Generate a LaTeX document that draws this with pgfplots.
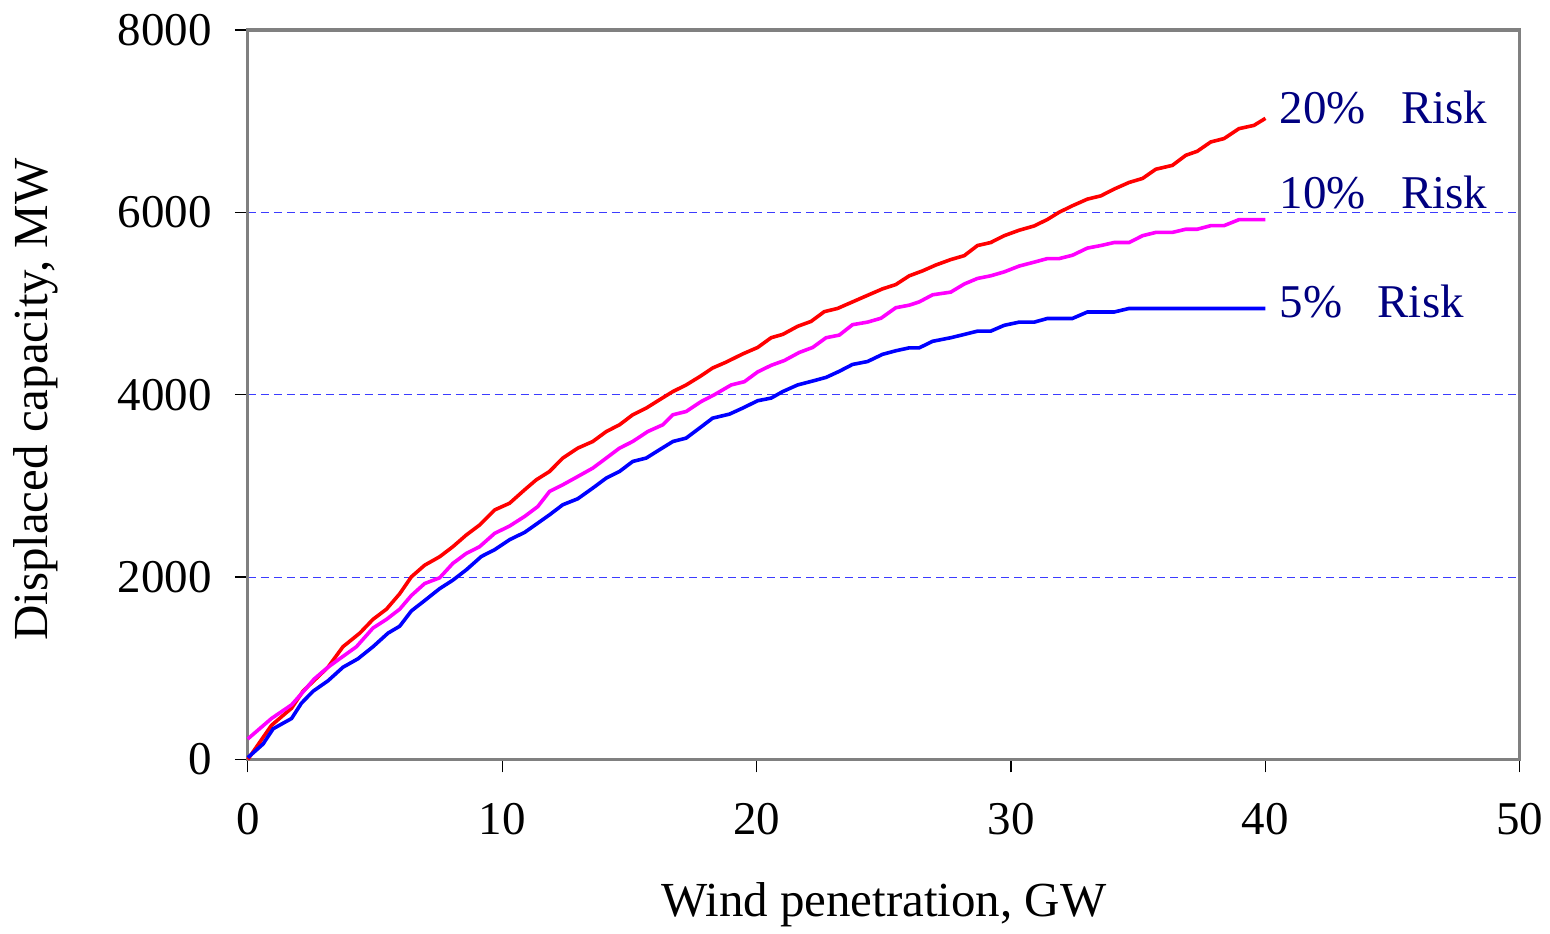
\documentclass[border=0pt]{standalone}
\usepackage{pgfplots}
\pgfplotsset{compat=1.18}
\usepackage{fontspec}
\setmainfont{Liberation Serif}
\definecolor{navy}{RGB}{0,0,128}
\definecolor{axgray}{RGB}{128,128,128}
\definecolor{cred}{RGB}{255,0,0}
\definecolor{cmag}{RGB}{255,0,255}
\definecolor{cblue}{RGB}{0,0,255}
\definecolor{cgrid}{RGB}{60,60,255}
\begin{document}
\begin{tikzpicture}
\begin{axis}[
  scale only axis,
  width=636.5pt, height=365pt,
  xmin=0, xmax=50, ymin=0, ymax=8000,
  xtick={0,10,20,30,40,50},
  ytick={0,2000,4000,6000,8000},
  tick align=outside,
  xtick pos=left, ytick pos=left,
  major tick length=6.5pt,
  tick style={black, line width=0.6pt},
  axis line style={axgray, line width=1.6pt},
  ymajorgrids,
  grid style={cgrid, line width=0.5pt, dash pattern=on 4pt off 2.5pt},
  /pgf/number format/assume math mode=true,
  /pgf/number format/set thousands separator={},
  scaled y ticks=false,
  every tick label/.append style={font=\fontsize{23.5}{27}\selectfont},
  xticklabel style={yshift=-12pt},
  yticklabel style={xshift=-8pt},
  xlabel={Wind penetration, GW},
  ylabel={Displaced capacity, MW},
  xlabel style={at={(axis description cs:0.5,-0.199)}, anchor=center, font=\fontsize{24.5}{28}\selectfont},
  ylabel style={at={(axis description cs:-0.167,0.493)}, anchor=center, rotate=0, font=\fontsize{24.5}{28}\selectfont},
  clip=false,
]
\addplot[cred, line width=1.8pt] coordinates {
(0,0) (0.93,374) (1.72,562) (2.17,749) (3.15,1011) (3.74,1236) (4.40,1385) (4.92,1536)
(5.45,1648) (5.97,1817) (6.43,2003) (6.95,2130) (7.54,2223) (8.06,2333) (8.59,2462)
(9.11,2571) (9.70,2736) (10.29,2810) (10.88,2957) (11.34,3067) (11.86,3158) (12.38,3305)
(12.97,3414) (13.56,3487) (14.09,3596) (14.61,3670) (15.13,3780) (15.66,3853) (16.18,3944)
(16.71,4035) (17.23,4107) (17.75,4196) (18.27,4293) (18.80,4357) (19.45,4447) (20.04,4518)
(20.57,4625) (21.03,4662) (21.61,4750) (22.14,4804) (22.66,4911) (23.18,4946) (23.77,5018)
(24.36,5090) (24.95,5161) (25.47,5208) (26.00,5304) (26.52,5358) (27.04,5422) (27.63,5482)
(28.16,5525) (28.68,5636) (29.20,5669) (29.73,5744) (30.32,5804) (30.91,5851) (31.43,5922)
(31.89,6001) (32.41,6072) (33.00,6145) (33.53,6181) (34.05,6255) (34.64,6328) (35.17,6372)
(35.69,6473) (36.34,6515) (36.87,6626) (37.32,6670) (37.85,6772) (38.37,6809) (38.96,6918)
(39.55,6954) (40.00,7031)
};
\addplot[cmag, line width=1.8pt] coordinates {
(0,225) (0.93,449) (1.72,599) (2.17,740) (2.60,880) (3.15,1011) (3.61,1104) (4.27,1236)
(4.92,1441) (5.45,1536) (5.97,1648) (6.43,1798) (6.95,1929) (7.54,1992) (8.06,2150)
(8.59,2260) (9.11,2333) (9.70,2479) (10.29,2560) (10.88,2665) (11.40,2774) (11.86,2939)
(12.38,3012) (12.97,3103) (13.56,3195) (14.09,3305) (14.61,3414) (15.13,3487) (15.72,3596)
(16.31,3670) (16.71,3780) (17.23,3816) (17.82,3925) (18.34,4000) (19.00,4107) (19.52,4143)
(20.04,4250) (20.57,4322) (21.09,4375) (21.68,4464) (22.20,4518) (22.73,4625) (23.25,4654)
(23.77,4768) (24.36,4796) (24.89,4839) (25.47,4954) (26.00,4982) (26.39,5018) (26.92,5096)
(27.63,5125) (28.16,5214) (28.68,5275) (29.20,5304) (29.73,5347) (30.32,5411) (30.91,5454)
(31.43,5493) (31.89,5493) (32.41,5529) (33.00,5608) (33.53,5636) (34.05,5669) (34.64,5669)
(35.17,5744) (35.69,5780) (36.34,5780) (36.87,5815) (37.32,5815) (37.85,5854) (38.37,5854)
(38.96,5920) (40.00,5920)
};
\addplot[cblue, line width=1.8pt] coordinates {
(0,20) (0.60,169) (1.00,337) (1.72,449) (2.11,618) (2.57,749) (3.15,862) (3.74,1011)
(4.33,1104) (4.92,1236) (5.51,1385) (5.97,1461) (6.43,1629) (6.95,1742) (7.54,1873)
(8.06,1966) (8.59,2080) (9.18,2226) (9.70,2300) (10.29,2410) (10.88,2490) (11.40,2592)
(11.86,2683) (12.38,2793) (12.97,2859) (13.56,2976) (14.09,3086) (14.61,3158) (15.13,3268)
(15.66,3305) (16.18,3396) (16.71,3487) (17.23,3524) (17.75,3633) (18.27,3743) (18.93,3787)
(19.45,3853) (20.04,3934) (20.57,3963) (21.03,4035) (21.61,4107) (22.20,4150) (22.73,4190)
(23.25,4257) (23.77,4332) (24.36,4364) (24.95,4443) (25.47,4482) (26.00,4514) (26.39,4514)
(26.92,4586) (27.63,4625) (28.16,4661) (28.68,4697) (29.20,4697) (29.73,4761) (30.32,4796)
(30.91,4796) (31.43,4836) (32.41,4836) (33.00,4907) (34.05,4907) (34.64,4946) (40.00,4946)
};
\node[anchor=west, text=navy, font=\fontsize{23.5}{27}\selectfont, inner sep=0pt] at (axis cs:40.55,7150) {20\%\hspace{0.75em}Risk};
\node[anchor=west, text=navy, font=\fontsize{23.5}{27}\selectfont, inner sep=0pt] at (axis cs:40.55,6220) {10\%\hspace{0.75em}Risk};
\node[anchor=west, text=navy, font=\fontsize{23.5}{27}\selectfont, inner sep=0pt] at (axis cs:40.55,5020) {5\%\hspace{0.75em}Risk};
\end{axis}
\path (current axis.south west) ++(-124pt,-85pt) rectangle ++(775pt,465pt);
\end{tikzpicture}
\end{document}
